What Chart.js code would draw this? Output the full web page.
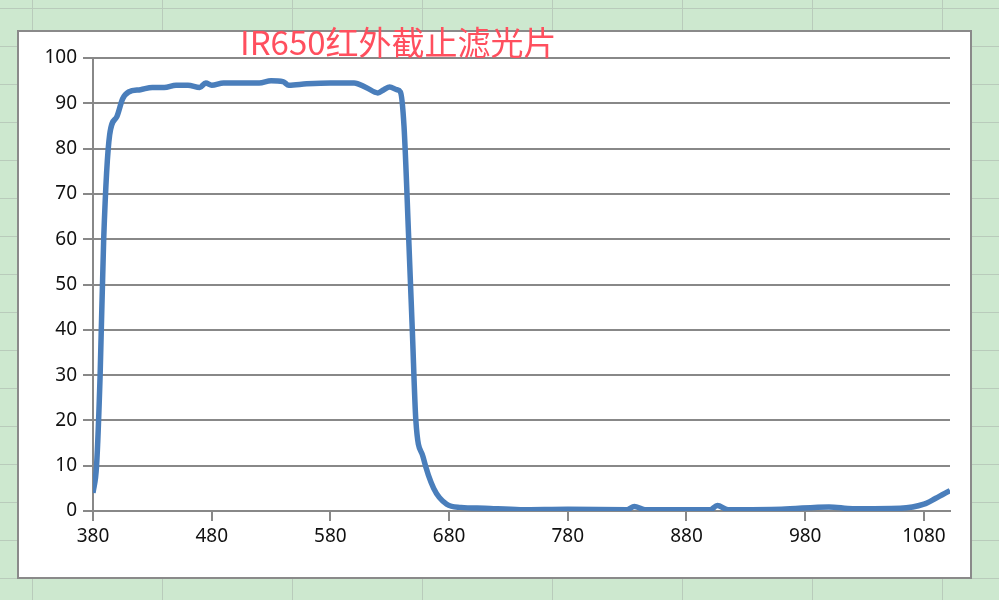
<!DOCTYPE html>
<html>
<head>
<meta charset="utf-8">
<script src="https://cdn.jsdelivr.net/npm/chart.js@4"></script>
<style>
  body { margin: 0; width: 999px; height: 600px; overflow: hidden;
    background-color: #cde8cf;
    background-image:
      linear-gradient(to right, #b9cbbb 1px, transparent 1px),
      linear-gradient(to bottom, #b9cbbb 1px, transparent 1px);
    background-size: 130px 100%, 100% 38px;
    background-position: 32px 0, 0 8px; }
  #box { position: absolute; left: 17px; top: 30px; width: 951px; height: 545px;
    background: #fff; border: 2px solid #8a8a8a; }
  #title { position: absolute; left: 240px; top: 17px; font: 33px "Noto Sans CJK SC", "Noto Sans";
    color: #ff4f5e; }
</style>
</head>
<body>
<div id="box"><canvas id="c" width="951" height="545"></canvas></div>
<div id="title">IR650红外截止滤光片</div>
<script>
const wavelengths = [380, 383, 386, 389, 394, 400, 405, 410, 420, 430, 440, 450, 460, 470, 475, 480, 490, 500, 510, 520, 530, 540, 545, 560, 580, 600, 610, 620, 625, 630, 636, 639, 642, 646, 649, 652, 658, 667, 678, 690, 710, 740, 780, 830, 836, 845, 900, 906, 915, 960, 1000, 1020, 1060, 1080, 1090, 1102];
const transmittance = [4, 10, 30, 60, 83, 87, 91, 92.5, 93, 93.5, 93.5, 94, 94, 93.5, 94.5, 94, 94.5, 94.5, 94.5, 94.5, 95, 94.8, 94, 94.3, 94.5, 94.5, 93.5, 92.3, 93, 93.6, 93, 92.5, 85, 60, 40, 20, 12, 5, 1.5, 0.8, 0.6, 0.3, 0.4, 0.3, 1, 0.3, 0.3, 1.2, 0.3, 0.4, 0.9, 0.5, 0.6, 1.5, 2.8, 4.5];
const xTicks = [380, 480, 580, 680, 780, 880, 980, 1080];
const yTicks = [0, 10, 20, 30, 40, 50, 60, 70, 80, 90, 100];

const points = wavelengths.map((w, i) => ({ x: w, y: transmittance[i] }));
const font = { family: "Noto Sans", size: 19 };

new Chart(document.getElementById("c"), {
  type: 'line',
  data: { datasets: [{ data: points, borderColor: '#4a7ebb', borderWidth: 5.5,
    pointRadius: 0, cubicInterpolationMode: 'monotone' }] },
  options: {
    responsive: false, animation: false,
    layout: { padding: { top: 26, right: 20, left: 0, bottom: 0 } },
    plugins: { legend: { display: false }, tooltip: { enabled: false } },
    scales: {
      x: {
        type: 'linear', min: 380, max: 1102,
        afterBuildTicks: s => { s.ticks = xTicks.map(v => ({ value: v })); },
        afterFit: s => { s.height = 66; },
        grid: { drawOnChartArea: false, color: '#888', lineWidth: 2, tickLength: 10 },
        border: { color: '#888', width: 2 },
        ticks: { color: '#111', font: font, padding: 4, maxRotation: 0, callback: v => String(v) }
      },
      y: {
        min: 0, max: 100,
        afterBuildTicks: s => { s.ticks = yTicks.map(v => ({ value: v })); },
        afterFit: s => { s.width = 74; },
        grid: { color: '#888', lineWidth: 2, tickLength: 10 },
        border: { color: '#888', width: 2 },
        ticks: { color: '#111', font: font, padding: 6, callback: v => String(v) }
      }
    }
  }
});
</script>
</body>
</html>
